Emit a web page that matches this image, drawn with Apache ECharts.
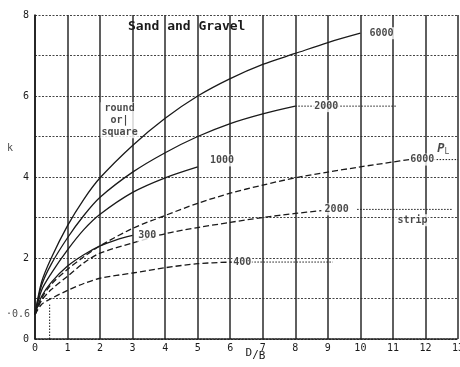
<!DOCTYPE html>
<html>
<head>
<meta charset="utf-8">
<script src="https://cdn.jsdelivr.net/npm/echarts@6/dist/echarts.min.js"></script>
<style>
  html, body { margin: 0; padding: 0; background: #fff; }
  #chart { width: 460px; height: 367px; }
</style>
</head>
<body>
<div id="chart"></div>
<script>
// Breakout factor k against embedment ratio D/B, sand and gravel.
// Solid curves: round or square footings; dashed curves: strip footings.
var xTicks = [0, 1, 2, 3, 4, 5, 6, 7, 8, 9, 10, 11, 12, 13];
var yLabelValues = [0, 2, 4, 6, 8];

var round6000 = [[0,0.6],[0.2,1.4],[0.5,2.0],[1,2.8],[1.5,3.45],[2,3.98],[3,4.78],[4,5.45],[5,6.0],[6,6.43],[7,6.78],[8,7.05],[9,7.32],[10,7.55]];
var round2000 = [[0,0.6],[0.2,1.32],[0.5,1.85],[1,2.5],[1.5,3.05],[2,3.5],[3,4.12],[4,4.6],[5,5.0],[6,5.32],[7,5.56],[8,5.75]];
var round1000 = [[0,0.6],[0.2,1.2],[0.5,1.62],[1,2.2],[1.5,2.7],[2,3.08],[3,3.62],[4,3.98],[5,4.25]];
var round300  = [[0,0.6],[0.2,1.05],[0.5,1.4],[1,1.8],[1.5,2.08],[2,2.3],[2.5,2.45],[3,2.56]];

var strip6000 = [[0,0.6],[0.2,1.0],[0.5,1.35],[1,1.72],[1.5,2.03],[2,2.3],[3,2.73],[4,3.05],[5,3.35],[6,3.6],[7,3.8],[8,3.98],[9,4.12],[10,4.25],[11,4.37],[11.5,4.43]];
var strip2000 = [[0,0.6],[0.2,0.95],[0.5,1.22],[1,1.55],[1.5,1.88],[2,2.12],[3,2.37],[4,2.6],[5,2.75],[6,2.88],[7,3.0],[8,3.1],[8.8,3.17]];
var strip400  = [[0,0.6],[0.2,0.85],[0.5,1.0],[1,1.2],[1.5,1.37],[2,1.5],[3,1.63],[4,1.76],[5,1.86],[6.05,1.9]];

// dotted leader lines carrying the curve labels
var leader2000Round = [[8,5.75],[11.1,5.75]];
var leader6000Strip = [[12.25,4.43],[13,4.43]];
var leader2000Strip = [[9.9,3.2],[12.85,3.2]];
var leader400Strip  = [[6.65,1.9],[9.15,1.9]];
var projection      = [[0.45,0],[0.45,0.85]];

// curve annotations: [D/B, k, text]
var curveLabels = [
  [10.65, 7.55, '6000'],
  [8.95, 5.75, '2000'],
  [5.75, 4.41, '1000'],
  [3.45, 2.55, '300'],
  [11.9, 4.43, '6000'],
  [9.27, 3.2, '2000'],
  [6.37, 1.9, '400'],
  [11.6, 2.93, 'strip'],
  [2.6, 5.4, 'round\nor|\nsquare']
];
// labels set just left of the k axis: [D/B, k, text, gap]
var axisSideLabels = [[0, 0.6, '\u00b70.6', 5], [0, 4.7, 'k', 22]];
var plLabel = [[12.55, 4.7, 'P']];

var ink = '#1a1a1a';
var mono = '"DejaVu Sans Mono", monospace';

function curve(data, dashed) {
  return {
    type: 'line', data: data, showSymbol: false, smooth: 0.3,
    lineStyle: { color: ink, width: 1.3, type: dashed ? [6, 3] : 'solid' },
    silent: true, z: 3
  };
}
function dotted(data) {
  return {
    type: 'line', data: data, showSymbol: false,
    lineStyle: { color: ink, width: 1, type: [1.5, 1.5] }, silent: true, z: 2
  };
}

var chart = echarts.init(document.getElementById('chart'));
chart.setOption({
  backgroundColor: '#fff',
  animation: false,
  title: {
    text: 'Sand and Gravel', left: 123, top: 15,
    textStyle: { fontFamily: mono, fontSize: 13, fontWeight: 'bold', color: ink }
  },
  grid: { left: 35, right: 2, top: 15, bottom: 28, outerBoundsMode: 'none', containLabel: false },
  xAxis: {
    type: 'value', min: 0, max: 13, interval: 1,
    name: '{d|D}/{b|B}', nameLocation: 'middle', nameGap: 9, nameMoveOverlap: false,
    nameTextStyle: {
      color: ink, fontFamily: mono, fontSize: 11, verticalAlign: 'top',
      rich: {
        d: { fontFamily: mono, fontSize: 11, color: ink, padding: [0, 0, 3, 0] },
        b: { fontFamily: mono, fontSize: 11, color: ink, padding: [3, 0, 0, 0] }
      },
      padding: [0, 0, 0, 18]
    },
    axisLine: { show: true, lineStyle: { color: ink, width: 1.5, type: [2, 1] } },
    axisTick: { show: false },
    axisLabel: {
      color: ink, fontFamily: mono, fontSize: 10, margin: 4,
      formatter: function (v) { return xTicks.indexOf(v) >= 0 ? String(v) : ''; }
    },
    splitLine: { show: true, lineStyle: { color: '#2a2a2a', width: 1.5 } }
  },
  yAxis: {
    type: 'value', min: 0, max: 8, interval: 1,
    axisLine: { show: true, lineStyle: { color: ink, width: 1.6 } },
    axisTick: { show: false },
    axisLabel: {
      color: ink, fontFamily: mono, fontSize: 10, margin: 6,
      formatter: function (v) { return yLabelValues.indexOf(v) >= 0 ? String(v) : ''; }
    },
    splitLine: { show: true, lineStyle: { color: '#444', width: 1, type: [2, 1.5] } }
  },
  series: [
    curve(round6000, false),
    curve(round2000, false),
    curve(round1000, false),
    curve(round300, false),
    curve(strip6000, true),
    curve(strip2000, true),
    curve(strip400, true),
    dotted(leader2000Round),
    dotted(leader6000Strip),
    dotted(leader2000Strip),
    dotted(leader400Strip),
    dotted(projection),
    {
      type: 'scatter', data: curveLabels, symbolSize: 0, silent: true, z: 5,
      label: {
        show: true, position: 'inside', color: ink, fontFamily: mono, fontSize: 10,
        fontWeight: 'bold', lineHeight: 12, backgroundColor: '#fff', padding: [0, 1],
        formatter: function (p) { return p.data[2]; }
      }
    },
    {
      type: 'scatter', data: plLabel, symbolSize: 0, silent: true, z: 5,
      label: {
        show: true, position: 'inside',
        formatter: '{p|P}{l|L}',
        rich: {
          p: { fontFamily: mono, fontSize: 12, color: ink, fontStyle: 'italic', fontWeight: 'bold' },
          l: { fontFamily: mono, fontSize: 8, color: ink, padding: [6, 0, 0, 0] }
        }
      }
    },
    {
      type: 'scatter', symbolSize: 0, silent: true, z: 5, clip: false,
      data: axisSideLabels.map(function (d) {
        return { value: [d[0], d[1]], name: d[2], label: { distance: d[3] } };
      }),
      label: {
        show: true, position: 'left', color: ink, fontFamily: mono, fontSize: 10,
        formatter: function (p) { return p.name; }
      }
    }
  ]
});
</script>
</body>
</html>
